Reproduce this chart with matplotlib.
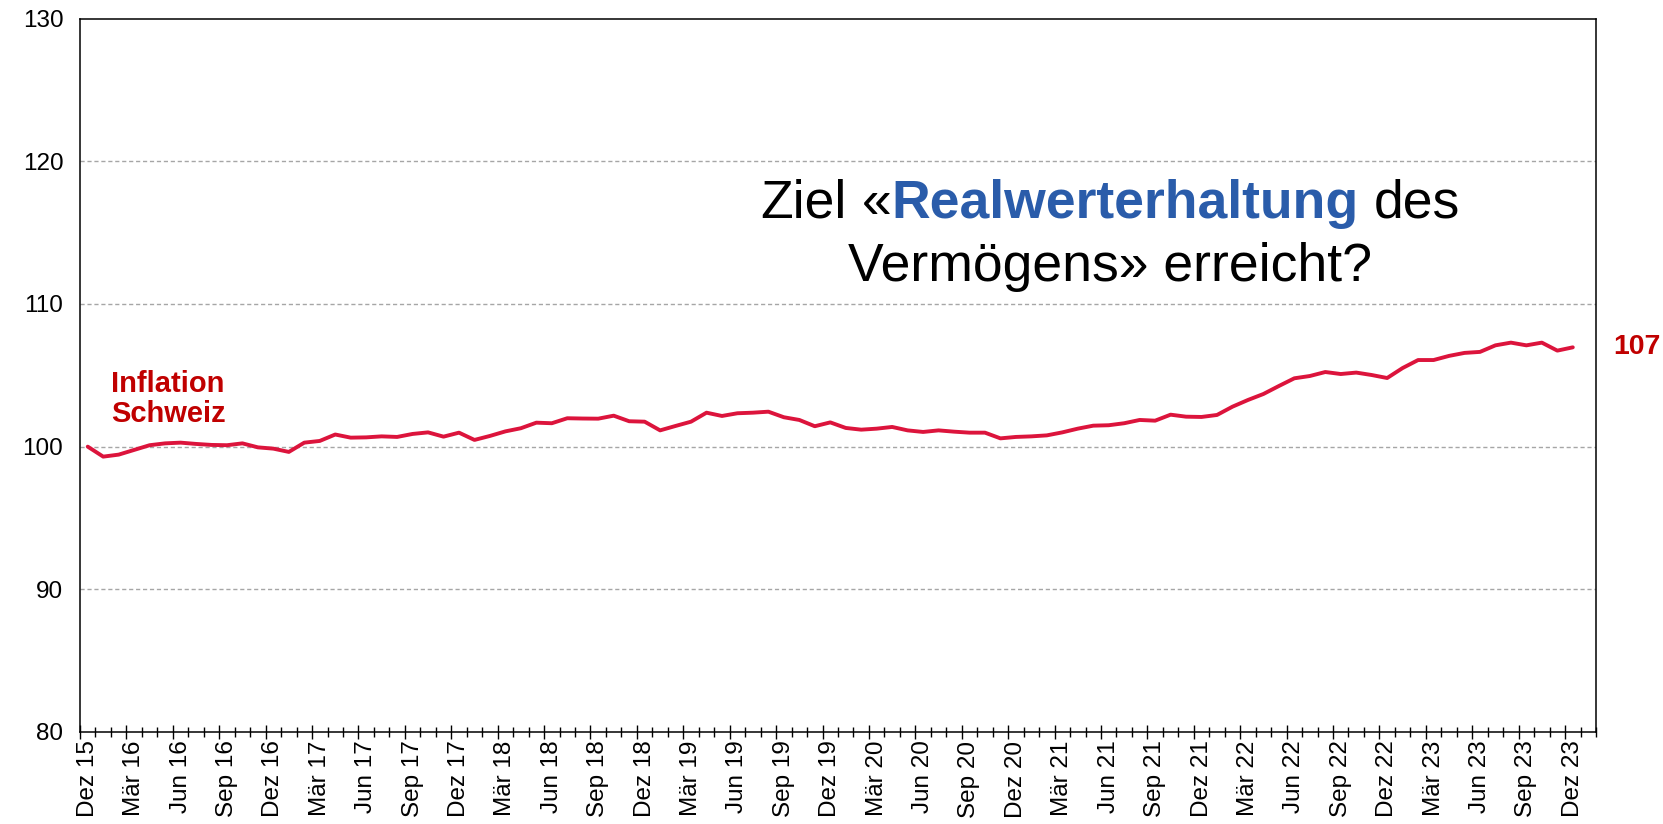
import numpy as np
import matplotlib
matplotlib.use("Agg")
import matplotlib.pyplot as plt
from matplotlib.offsetbox import TextArea, HPacker, AnchoredOffsetbox
from matplotlib.ticker import FixedLocator, NullFormatter

plt.rcParams['font.family'] = ['Liberation Sans', 'DejaVu Sans']

# Monthly index, Dez 15 = 100 (97 months, Dez 2015 .. Dez 2023)
inflation = [
    100.0, 99.3, 99.44, 99.77, 100.1, 100.23, 100.28, 100.19, 100.12, 100.1,
    100.23, 99.95, 99.86, 99.63, 100.28, 100.4, 100.85, 100.63, 100.65, 100.72,
    100.68, 100.89, 101.0, 100.7, 100.98, 100.47, 100.75, 101.07, 101.29, 101.68,
    101.64, 101.99, 101.97, 101.96, 102.17, 101.78, 101.75, 101.14, 101.45, 101.75,
    102.38, 102.15, 102.34, 102.38, 102.45, 102.06, 101.87, 101.43, 101.7, 101.31,
    101.19, 101.26, 101.38, 101.14, 101.03, 101.14, 101.05, 100.98, 100.98, 100.58,
    100.68, 100.72, 100.79, 101.0, 101.26, 101.47, 101.5, 101.64, 101.87, 101.82,
    102.24, 102.1, 102.08, 102.22, 102.8, 103.27, 103.69, 104.25, 104.79, 104.95,
    105.23, 105.09, 105.19, 105.02, 104.81, 105.51, 106.07, 106.07, 106.36, 106.57,
    106.64, 107.1, 107.29, 107.1, 107.29, 106.73, 106.96,
]
n_categories = 98  # one empty category after Dez 23
tick_labels = [
    "Dez 15", "Mär 16", "Jun 16", "Sep 16", "Dez 16", "Mär 17", "Jun 17", "Sep 17",
    "Dez 17", "Mär 18", "Jun 18", "Sep 18", "Dez 18", "Mär 19", "Jun 19", "Sep 19",
    "Dez 19", "Mär 20", "Jun 20", "Sep 20", "Dez 20", "Mär 21", "Jun 21", "Sep 21",
    "Dez 21", "Mär 22", "Jun 22", "Sep 22", "Dez 22", "Mär 23", "Jun 23", "Sep 23",
    "Dez 23",
]
label_step = 3
y_ticks = [80, 90, 100, 110, 120, 130]
end_label = "107"
series_label = "Inflation\nSchweiz"

LINE_RED = "#DC143C"
DARK_RED = "#C00000"
BLUE = "#2A5CAA"

fig = plt.figure(figsize=(16.63, 8.24), dpi=100)
ax = fig.add_axes([80 / 1663, 1 - 732 / 824, (1596 - 80) / 1663, (732 - 18.6) / 824])

x = np.arange(len(inflation)) + 0.5
ax.plot(x, inflation, color=LINE_RED, lw=2.8, solid_joinstyle='round',
        solid_capstyle='round', zorder=3, clip_on=False)

ax.set_xlim(0, n_categories)
ax.set_ylim(y_ticks[0], y_ticks[-1])

# y axis
ax.set_yticks(y_ticks)
ax.tick_params(axis='y', length=0, pad=12, labelsize=17.5)
for yv in y_ticks[1:-1]:
    ax.axhline(yv, color="#A6A6A6", lw=1.0, ls=(0, (3, 2)), zorder=1)

# x axis: tick marks at category boundaries
bounds = np.arange(0, n_categories + 1)
major_b = bounds[::label_step][:len(tick_labels)]
minor_b = [b for b in bounds if b not in set(major_b)]
ax.xaxis.set_major_locator(FixedLocator(major_b))
ax.xaxis.set_minor_locator(FixedLocator(minor_b))
ax.xaxis.set_major_formatter(NullFormatter())
ax.tick_params(axis='x', which='major', direction='inout', length=10, width=1, color='black')
ax.tick_params(axis='x', which='minor', direction='inout', length=7, width=1, color='black')

trans = matplotlib.transforms.blended_transform_factory(ax.transData, ax.transAxes)
for k, lab in enumerate(tick_labels):
    ax.text(k * label_step + 0.5, -0.012, lab, transform=trans, rotation=90,
            ha='center', va='top', fontsize=17.5)

for s in ax.spines.values():
    s.set_color('black')
    s.set_linewidth(1.1)

# labels
fig.text(111 / 1663, 1 - 398 * 1.0606 / 824, series_label, color=DARK_RED,
         fontsize=21, fontweight='bold', ha='left', va='baseline', linespacing=1.1)

ax.annotate(end_label, xy=(x[-1], inflation[-1]), xytext=(29, 0),
            textcoords='offset points', color=DARK_RED, fontsize=20.5,
            fontweight='bold', ha='left', va='center', annotation_clip=False)

# title-like statement
fs = 38.5
p1 = TextArea("Ziel", textprops=dict(fontsize=fs, color='black'))
p2 = TextArea("«", textprops=dict(fontsize=fs, color='black'))
p3 = TextArea("Realwerterhaltung", textprops=dict(fontsize=fs, color=BLUE, fontweight='bold'))
p4 = TextArea("des", textprops=dict(fontsize=fs, color='black'))
inner = HPacker(children=[p2, p3], align='baseline', pad=0, sep=0)
line1 = HPacker(children=[p1, inner, p4], align='baseline', pad=0, sep=0.278 * fs)
box = AnchoredOffsetbox(loc='lower center', child=line1, pad=0, borderpad=0, frameon=False,
                        bbox_to_anchor=(1110 / 1663, 1 - (218 + 11) / 824),
                        bbox_transform=fig.transFigure)
fig.add_artist(box)
fig.text(1110 / 1663, 1 - 281 / 824, "Vermögens» erreicht?", fontsize=fs,
         ha='center', va='baseline', color='black')

fig.savefig("out.png", dpi=100, facecolor='white')
